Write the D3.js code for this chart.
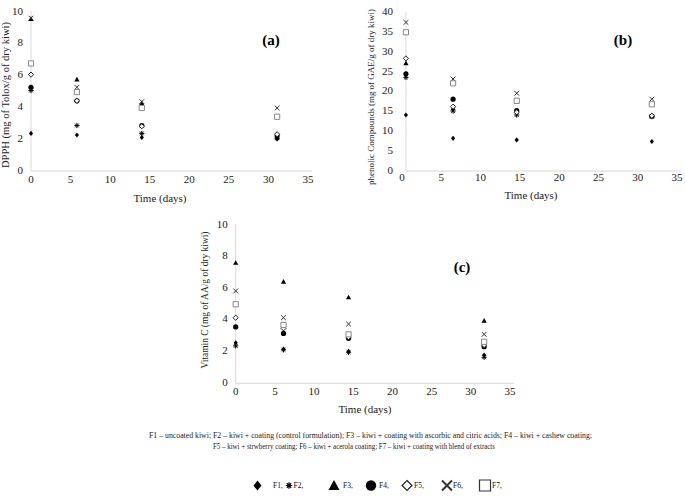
<!DOCTYPE html>
<html><head><meta charset="utf-8">
<script src="https://cdn.jsdelivr.net/npm/d3@7"></script>
<style>
body{margin:0;background:#fff;}
svg text{font-family:'Liberation Serif','DejaVu Serif',serif;}
</style></head>
<body><svg id="c" width="685" height="497"></svg>
<script>
const seriesNames = ["F1","F2","F3","F4","F5","F6","F7"];
const daysA = [0, 5.8, 14, 31.1];
const daysB = [0.5, 6.5, 14.6, 31.8];
const daysC = [0, 6.1, 14.4, 31.7];
const xTicks = [0,5,10,15,20,25,30,35];
const yTicksA = [0,2,4,6,8,10];
const yTicksB = [0,5,10,15,20,25,30,35,40];
const yTicksC = [0,2,4,6,8,10];
// rows: F1..F7, columns: time points
const dpph = [
  [2.3, 2.2, 2.05, 1.95],
  [5.0, 2.8, 2.3, 2.0],
  [9.5, 5.7, 4.2, 2.05],
  [5.2, 4.35, 2.8, 2.15],
  [6.0, 4.35, 2.75, 2.25],
  [9.55, 5.2, 4.3, 3.9],
  [6.7, 4.9, 3.9, 3.35]
];
const phenolic = [
  [13.9, 8.0, 7.6, 7.2],
  [23.4, 14.9, 13.9, 13.5],
  [27.0, 15.6, 17.3, 13.8],
  [24.3, 17.9, 15.0, 13.6],
  [28.2, 16.0, 14.6, 13.7],
  [37.3, 23.0, 19.4, 17.9],
  [34.8, 21.9, 17.5, 16.6]
];
const vitaminC = [
  [2.5, 2.1, 1.95, 1.72],
  [2.3, 2.05, 1.9, 1.58],
  [7.55, 6.36, 5.37, 3.89],
  [3.5, 3.09, 2.78, 2.25],
  [4.08, 3.41, 2.85, 2.35],
  [5.77, 4.08, 3.68, 3.03],
  [4.93, 3.62, 3.03, 2.56]
];
const captionLines = [
  "F1 – uncoated kiwi;  F2 – kiwi + coating (control formulation);  F3 – kiwi + coating with ascorbic and citric acids;  F4 – kiwi + cashew coating;",
  "F5 – kiwi + strwberry coating;  F6 – kiwi + acerola coating;  F7 – kiwi + coating with blend of extracts"
];
const legendLabels = ["F1,","F2,","F3,","F4,","F5,","F6,","F7,"];

const svg = d3.select("#c");
const FONT = "'Liberation Serif','DejaVu Serif',serif";

function markerPath(i, s){
  switch(i){
    case 0: return `M0,${-s}L${s*0.8},0L0,${s}L${-s*0.8},0Z`;
    case 1: {
      let p = "";
      for(let k=0;k<4;k++){const a=k*Math.PI/4;p+=`M${-s*Math.cos(a)},${-s*Math.sin(a)}L${s*Math.cos(a)},${s*Math.sin(a)}`;}
      return p; }
    case 2: return `M0,${-s}L${s},${s*0.8}L${-s},${s*0.8}Z`;
    case 3: return d3.symbol(d3.symbolCircle, Math.PI*s*s)();
    case 4: return `M0,${-s}L${s},0L0,${s}L${-s},0Z`;
    case 5: return `M${-s},${-s}L${s},${s}M${s},${-s}L${-s},${s}`;
    case 6: return `M${-s},${-s}H${s}V${s}H${-s}Z`;
  }
}
function styleMarker(sel, i, sw){
  const st = [
    {fill:"#000",stroke:"none"},
    {fill:"none",stroke:"#000"},
    {fill:"#000",stroke:"none"},
    {fill:"#000",stroke:"none"},
    {fill:"#fff",stroke:"#222"},
    {fill:"none",stroke:"#333"},
    {fill:"#fff",stroke:"#888"}
  ][i];
  sel.attr("fill",st.fill).attr("stroke",st.stroke).attr("stroke-width",sw);
}
function txt(sel){ return sel.attr("font-family",FONT).attr("fill","#222"); }

function panel(cfg){
  const x = d3.scaleLinear().domain([0,35]).range(cfg.xr);
  const y = d3.scaleLinear().domain([0,cfg.ymax]).range(cfg.yr);
  const g = svg.append("g");
  g.append("line").attr("x1",x(cfg.yAxisAt)).attr("x2",x(cfg.yAxisAt))
    .attr("y1",y(0)+1).attr("y2",y(cfg.ymax)).attr("stroke","#d9d9d9");
  g.append("line").attr("x1",x(cfg.yAxisAt)).attr("x2",x(35)+4)
    .attr("y1",y(0)+1).attr("y2",y(0)+1).attr("stroke","#d9d9d9");
  txt(g.selectAll(".xt").data(xTicks).enter().append("text"))
    .attr("x",d=>x(d)).attr("y",y(0)+cfg.xtDy).attr("text-anchor","middle")
    .attr("font-size",11).text(d=>d);
  txt(g.selectAll(".yt").data(cfg.yTicks).enter().append("text"))
    .attr("x",x(cfg.yAxisAt)-cfg.ytGap).attr("y",d=>y(d)+3.5).attr("text-anchor","end")
    .attr("font-size",11).text(d=>d);
  txt(g.append("text")).attr("x",cfg.xtitle[0]).attr("y",cfg.xtitle[1]).attr("text-anchor","middle")
    .attr("font-size",11).text("Time (days)");
  txt(g.append("text")).attr("transform",`translate(${cfg.ytitle[0]},${cfg.ytitle[1]}) rotate(-90)`)
    .attr("text-anchor","middle").attr("font-size",cfg.ytSize)
    .attr("textLength",cfg.ytLen).attr("lengthAdjust","spacingAndGlyphs").text(cfg.ylabel);
  txt(g.append("text")).attr("x",cfg.tag[0]).attr("y",cfg.tag[1]).attr("text-anchor","middle")
    .attr("font-size",15).attr("font-weight","bold").attr("fill","#000").text(cfg.tagText);
  cfg.data.forEach((row,i)=>{
    row.forEach((v,j)=>{
      const p = g.append("path").attr("d",markerPath(i, i===5?2.4:2.6))
        .attr("transform",`translate(${x(cfg.days[j])},${y(v)})`);
      styleMarker(p,i,1);
    });
  });
}

panel({xr:[31,308], yr:[170,11], ymax:10, yTicks:yTicksA, yAxisAt:0, xtDy:13, ytGap:8,
  xtitle:[160,202], ytitle:[9,95], ytSize:10, ytLen:146, ylabel:"DPPH (mg of Tolox/g of dry kiwi)",
  tag:[271,45], tagText:"(a)", data:dpph, days:daysA});
panel({xr:[402,677], yr:[170,11.7], ymax:40, yTicks:yTicksB, yAxisAt:0.5, xtDy:11, ytGap:13,
  xtitle:[531,199], ytitle:[374,97], ytSize:9, ytLen:176, ylabel:"phenolic Compounds (mg of GAE/g of dry kiwi)",
  tag:[623,45], tagText:"(b)", data:phenolic, days:daysB});
panel({xr:[235.7,510], yr:[382.3,224], ymax:10, yTicks:yTicksC, yAxisAt:0, xtDy:13, ytGap:8,
  xtitle:[365,413], ytitle:[208,300], ytSize:10, ytLen:137, ylabel:"Vitamin C (mg of AA/g of dry kiwi)",
  tag:[462,272], tagText:"(c)", data:vitaminC, days:daysC});

txt(svg.append("text")).attr("x",149).attr("y",437.5).attr("font-size",7.2)
  .attr("textLength",443).attr("lengthAdjust","spacingAndGlyphs").text(captionLines[0]);
txt(svg.append("text")).attr("x",213).attr("y",449).attr("font-size",7.2)
  .attr("textLength",282).attr("lengthAdjust","spacingAndGlyphs").text(captionLines[1]);

const legMarkX = [257.5, 289, 334, 371, 407, 447, 485];
const legTextX = [273, 293.5, 343, 379, 414, 453, 492];
legendLabels.forEach((t,i)=>{
  const s = [5,3.2,5.5,5.2,5,5,5.5][i];
  const p = svg.append("path").attr("d",markerPath(i,s)).attr("transform",`translate(${legMarkX[i]},${485.5})`);
  styleMarker(p,i,i===5?2:1.2);
  if(i===5||i===6) p.attr("stroke","#333");
  txt(svg.append("text")).attr("x",legTextX[i]).attr("y",488).attr("font-size",7.5).attr("fill","#111").text(t);
});
</script></body></html>
